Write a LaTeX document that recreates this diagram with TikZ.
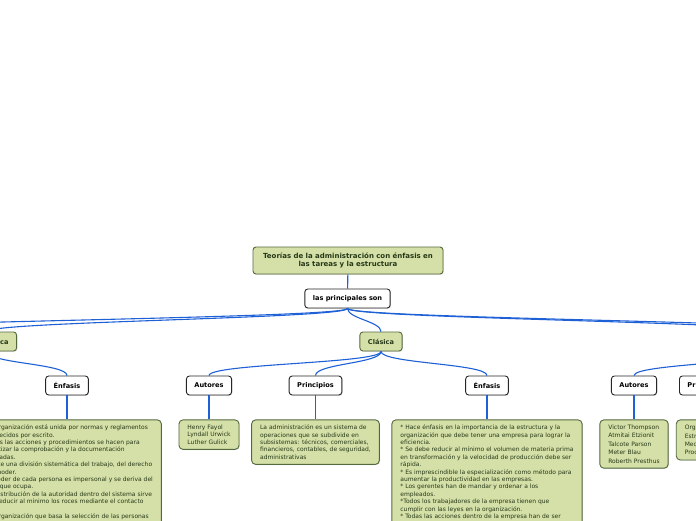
\documentclass[tikz,border=0pt]{standalone}
\usepackage{fontspec}
\setmainfont{DejaVu Sans}
\usepackage{tikz}
\usetikzlibrary{positioning,shadows}
\definecolor{leafgreen}{RGB}{213,224,169}
\definecolor{leafedge}{RGB}{84,106,62}
\definecolor{leaftext}{RGB}{38,56,22}
\definecolor{linkblue}{RGB}{30,96,214}

\begin{document}
\begin{tikzpicture}[
  x=1pt, y=-1pt,
  node distance=24pt,
  softshadow/.style={drop shadow={shadow xshift=0.8pt, shadow yshift=-0.8pt, opacity=0.25}},
  topic/.style={draw=leafedge, fill=leafgreen, line width=0.9pt, rounded corners=3pt, text=leaftext, font=\fontsize{6.6}{8}\selectfont\bfseries, minimum height=19pt, inner xsep=8pt, softshadow},
  tag/.style={draw=black!85, fill=white, line width=0.9pt, rounded corners=3pt, font=\fontsize{6.6}{8}\selectfont\bfseries, minimum height=19pt, inner xsep=8pt, softshadow},
  leaf/.style={draw=leafedge, fill=leafgreen, line width=0.9pt, rounded corners=4pt, text=leaftext, font=\fontsize{6}{7.4}\selectfont, align=left, inner xsep=8.5pt, inner ysep=5pt, softshadow},
  link/.style={draw=linkblue, line width=1.1pt}
]
\useasboundingbox (0,0) rectangle (696,520);
\clip (0,0) rectangle (696,520);

% main topic
\node[topic, font=\fontsize{7}{8}\selectfont\bfseries, text width=176pt, align=center, inner xsep=7pt, minimum height=27pt] (title) at (348,260.5) {Teorías de la administración con énfasis en\\las tareas y la estructura};
\node[tag] (sub) at (347.5,298.5) {las principales son};

% theories
\node[topic] (clasica) at (381,341.5) {Clásica};
\node[topic, anchor=east] (buro) at (17,341.5) {Burocrática};
\coordinate (cien) at (-200,332);
\coordinate (estr-in) at (780,332);
\coordinate (estr-out) at (780,351);
\coordinate (neo) at (850,332);

% headings
\node[tag] (enfB) at (67,385.5) {Énfasis};
\node[tag] (autC) at (209,385.5) {Autores};
\node[tag] (prinC) at (315.5,385.5) {Principios};
\node[tag] (enfC) at (487,385.5) {Énfasis};
\node[tag] (autE) at (634,385.5) {Autores};
\node[tag, anchor=west] (prinE) at (679,385.5) {Principios};

% contents
\node[leaf, below=of enfB] (tenfB) {* La organización está unida por normas y reglamentos\\establecidos por escrito.\\* Todas las acciones y procedimientos se hacen para\\garantizar la comprobación y la documentación\\adecuadas.\\* Existe una división sistemática del trabajo, del derecho\\y del poder.\\* El poder de cada persona es impersonal y se deriva del\\cargo que ocupa.\\* La distribución de la autoridad dentro del sistema sirve\\para reducir al mínimo los roces mediante el contacto\\\mbox{}\\* La organización que basa la selección de las personas};
\node[leaf, below=of autC] (tautC) {Henry Fayol\\Lyndall Urwick\\Luther Gulick};
\node[leaf, below=of prinC] (tprinC) {La administración es un sistema de\\operaciones que se subdivide en\\subsistemas: técnicos, comerciales,\\financieros, contables, de seguridad,\\administrativas};
\node[leaf, below=of enfC] (tenfC) {* Hace énfasis en la importancia de la estructura y la\\organización que debe tener una empresa para lograr la\\eficiencia.\\* Se debe reducir al mínimo el volumen de materia prima\\en transformación y la velocidad de producción debe ser\\rápida.\\* Es imprescindible la especialización como método para\\aumentar la productividad en las empresas.\\* Los gerentes han de mandar y ordenar a los\\empleados.\\*Todos los trabajadores de la empresa tienen que\\cumplir con las leyes en la organización.\\* Todas las acciones dentro de la empresa han de ser};
\node[leaf, below=of autE, font=\fontsize{6}{8.4}\selectfont] (tautE) {Victor Thompson\\Atmitai Etzionit\\Talcote Parson\\Meter Blau\\Roberth Presthus};
\node[leaf, below=of prinE, font=\fontsize{6}{8.4}\selectfont, text width=42pt] (tprinE) {Organización\\Estructura\\Mecanismos\\Procesos};

% connectors
\draw[link] (title) -- (sub);
\foreach \t in {buro,clasica}
  \draw[link] (sub.south) .. controls +(0,10) and +(0,-10) .. (\t.north);
\foreach \t in {cien,estr-in,neo}
  \draw[link] (sub.south) .. controls +(0,10) and +(0,-10) .. (\t);
\foreach \c in {autC,prinC,enfC}
  \draw[link] (clasica.south) .. controls +(0,12) and +(0,-12) .. (\c.north);
\draw[link] (buro.south) .. controls +(0,12) and +(0,-12) .. (enfB.north);
\foreach \c in {autE,prinE}
  \draw[link] (estr-out) .. controls +(0,12) and +(0,-12) .. (\c.north);
\foreach \h in {enfB,autC,prinC,enfC,autE,prinE}
  \draw[link] (\h) -- (t\h);
\end{tikzpicture}
\end{document}
